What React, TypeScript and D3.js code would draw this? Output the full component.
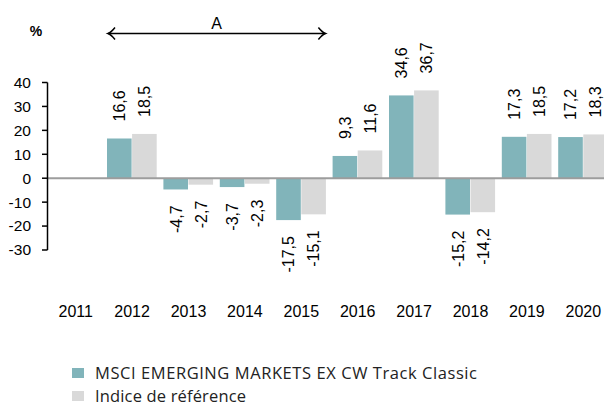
import React from "react";
import * as d3 from "d3";

const years = ["2011", "2012", "2013", "2014", "2015", "2016", "2017", "2018", "2019", "2020"];
const fundValues: (number | null)[] = [null, 16.6, -4.7, -3.7, -17.5, 9.3, 34.6, -15.2, 17.3, 17.2];
const indexValues: (number | null)[] = [null, 18.5, -2.7, -2.3, -15.1, 11.6, 36.7, -14.2, 18.5, 18.3];
const yTicks = [40, 30, 20, 10, 0, -10, -20, -30];
const seriesNames = ["MSCI EMERGING MARKETS EX CW Track Classic", "Indice de référence"];
const seriesColors = ["#81b4ba", "#d9d9d9"];
const legendWidths = [382, 151];
const periodLabel = "A";
const periodStart = "2012";
const periodEnd = "2015";

const fmt = (v: number) => v.toFixed(1).replace(".", ",");

export default function App() {
  const W = 604, H = 406;
  const x = d3.scaleBand<string>().domain(years).range([47.5, 611.5]).paddingInner(0.11).paddingOuter(0.055);
  const sub = d3.scaleBand<string>().domain(["0", "1"]).range([0, x.bandwidth()]);
  const y = d3.scaleLinear().domain([-30, 40]).range([250, 82.5]);
  const series = [fundValues, indexValues];
  const sans = "'Liberation Sans', Arial, sans-serif";
  const legendFont = "'Open Sans', Lato, sans-serif";
  const ax0 = x(periodStart)!;
  const ax1 = x(periodEnd)! + x.bandwidth();
  const ay = 33.5;
  return (
    <svg width={W} height={H} style={{ position: "absolute", left: 0, top: 0, background: "#fff" }}>
      {/* % label */}
      <text x={36} y={36} textAnchor="middle" fontFamily={sans} fontWeight="bold" fontSize={14} fill="#000">%</text>
      {/* period arrow */}
      <line x1={ax0 + 1} x2={ax1 - 1} y1={ay} y2={ay} stroke="#000" strokeWidth={1.5} />
      <path d={`M${ax0 + 8},${ay - 6} Q${ax0 + 4},${ay - 1} ${ax0 + 1},${ay} Q${ax0 + 4},${ay + 1} ${ax0 + 8},${ay + 6}`} fill="none" stroke="#000" strokeWidth={1.5} />
      <path d={`M${ax1 - 8},${ay - 6} Q${ax1 - 4},${ay - 1} ${ax1 - 1},${ay} Q${ax1 - 4},${ay + 1} ${ax1 - 8},${ay + 6}`} fill="none" stroke="#000" strokeWidth={1.5} />
      <text x={(ax0 + ax1) / 2} y={28.5} textAnchor="middle" fontFamily={sans} fontSize={16} fill="#000">{periodLabel}</text>

      {/* bars */}
      {years.map((yr, i) =>
        series.map((vals, s) => {
          const v = vals[i];
          if (v == null) return null;
          const bx = x(yr)! + sub(String(s))!;
          const top = y(Math.max(0, v));
          const bottom = y(Math.min(0, v));
          return (
            <rect key={yr + s} x={bx} y={top} width={sub.bandwidth() - 0.5} height={bottom - top} fill={seriesColors[s]} />
          );
        })
      )}
      {/* zero line */}
      <line x1={48} x2={W} y1={y(0)} y2={y(0)} stroke="#9d9d9d" strokeWidth={2} />
      {/* value labels */}
      {years.map((yr, i) =>
        series.map((vals, s) => {
          const v = vals[i];
          if (v == null) return null;
          const cx = x(yr)! + sub(String(s))! + sub.bandwidth() / 2;
          const ly = v >= 0 ? y(v) - 17 : y(v) + 16;
          return (
            <text key={"l" + yr + s} transform={`translate(${cx},${ly}) rotate(-90)`} dy="0.35em"
              textAnchor={v >= 0 ? "start" : "end"} fontFamily={sans} fontSize={16} fill="#000">{fmt(v)}</text>
          );
        })
      )}
      {/* y axis */}
      <line x1={47.5} x2={47.5} y1={y(40)} y2={y(-30)} stroke="#000" strokeWidth={1.5} />
      {yTicks.map((t) => (
        <g key={t}>
          <line x1={42} x2={47.5} y1={y(t)} y2={y(t)} stroke="#000" strokeWidth={1.5} />
          <text x={31} y={y(t)} dy="0.35em" textAnchor="end" fontFamily={sans} fontSize={15.5} fill="#000">{t}</text>
        </g>
      ))}
      {/* x labels */}
      {years.map((yr) => (
        <text key={"x" + yr} x={x(yr)! + x.bandwidth() / 2} y={317} textAnchor="middle" fontFamily={sans} fontSize={16} fill="#000">{yr}</text>
      ))}
      {/* legend */}
      {seriesNames.map((n, i) => (
        <g key={n}>
          <rect x={72} y={368 + i * 23} width={12} height={10} fill={seriesColors[i]} />
          <text x={95} y={378.5 + i * 23.5} fontFamily={legendFont} fontSize={16.5} fill="#222"
            textLength={legendWidths[i]} lengthAdjust="spacing">{n}</text>
        </g>
      ))}
    </svg>
  );
}
